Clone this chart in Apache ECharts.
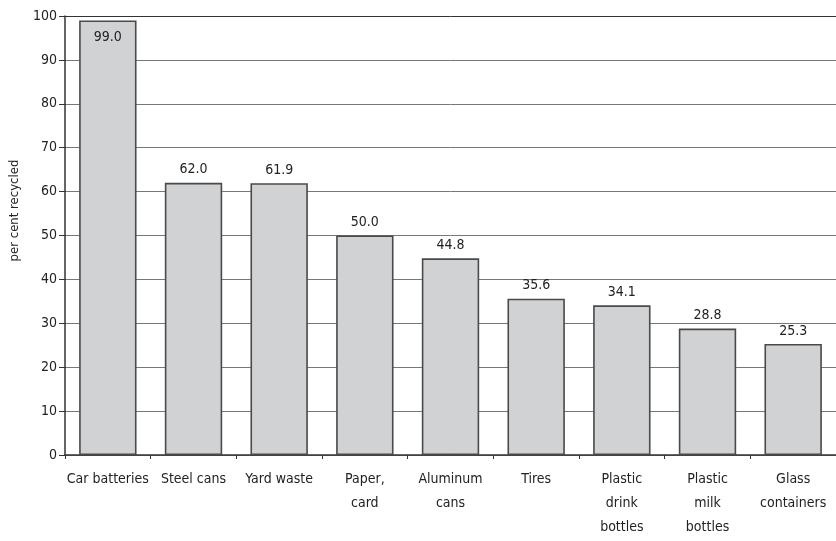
<!DOCTYPE html>
<html>
<head>
<meta charset="utf-8">
<script src="https://cdn.jsdelivr.net/npm/echarts@6/dist/echarts.min.js"></script>
<style>
  html, body { margin: 0; padding: 0; background: #fff; }
  #chart { width: 836px; height: 541px; }
</style>
</head>
<body>
<div id="chart"></div>
<script>
// Share of each material recycled
const categories = [
  'Car batteries', 'Steel cans', 'Yard waste', 'Paper,\ncard', 'Aluminum\ncans',
  'Tires', 'Plastic\ndrink\nbottles', 'Plastic\nmilk\nbottles', 'Glass\ncontainers'
];
const recycled = [99.0, 62.0, 61.9, 50.0, 44.8, 35.6, 34.1, 28.8, 25.3];
const yTicks = [0, 10, 20, 30, 40, 50, 60, 70, 80, 90, 100];

const FONT = '"Liberation Sans Narrow", "DejaVu Sans Condensed", sans-serif';

const chart = echarts.init(document.getElementById('chart'), null, { renderer: 'canvas' });

chart.setOption({
  animation: false,
  textStyle: { fontFamily: FONT },
  grid: { left: 64, right: -1, top: 16, bottom: 86 },
  xAxis: {
    type: 'category',
    data: categories,
    axisLine: { lineStyle: { color: '#333', width: 1.5 } },
    axisTick: { show: true, length: 4, lineStyle: { color: '#333' } },
    axisLabel: {
      color: '#222', fontSize: 14, fontFamily: FONT, margin: 12,
      lineHeight: 24, interval: 0
    }
  },
  yAxis: {
    type: 'value',
    min: yTicks[0],
    max: yTicks[yTicks.length - 1],
    interval: 10,
    name: 'per cent recycled',
    nameLocation: 'middle',
    nameGap: 44,
    nameTextStyle: { color: '#222', fontSize: 13, fontFamily: FONT, padding: [0, 0, 0, 50] },
    axisLine: { show: true, lineStyle: { color: '#333', width: 1.5 } },
    axisTick: { show: true, length: 6, lineStyle: { color: '#333' } },
    axisLabel: { color: '#222', fontSize: 14, fontFamily: FONT, margin: 8 },
    splitLine: {
      show: true,
      lineStyle: {
        color: yTicks.map((v) => (v === 100 ? '#333' : '#777')),
        width: 1
      }
    }
  },
  series: [{
    type: 'bar',
    data: recycled.map((v) => ({
      value: v,
      label: v > 95 ? { position: 'insideTop', distance: 10 } : {}
    })),
    barCategoryGap: '33%',
    itemStyle: { color: '#d1d2d4', borderColor: '#4a4a4a', borderWidth: 1.6 },
    label: {
      show: true,
      position: 'top',
      distance: 6,
      color: '#222',
      fontSize: 14,
      fontFamily: FONT,
      formatter: (p) => p.value.toFixed(1)
    }
  }]
});
</script>
</body>
</html>
